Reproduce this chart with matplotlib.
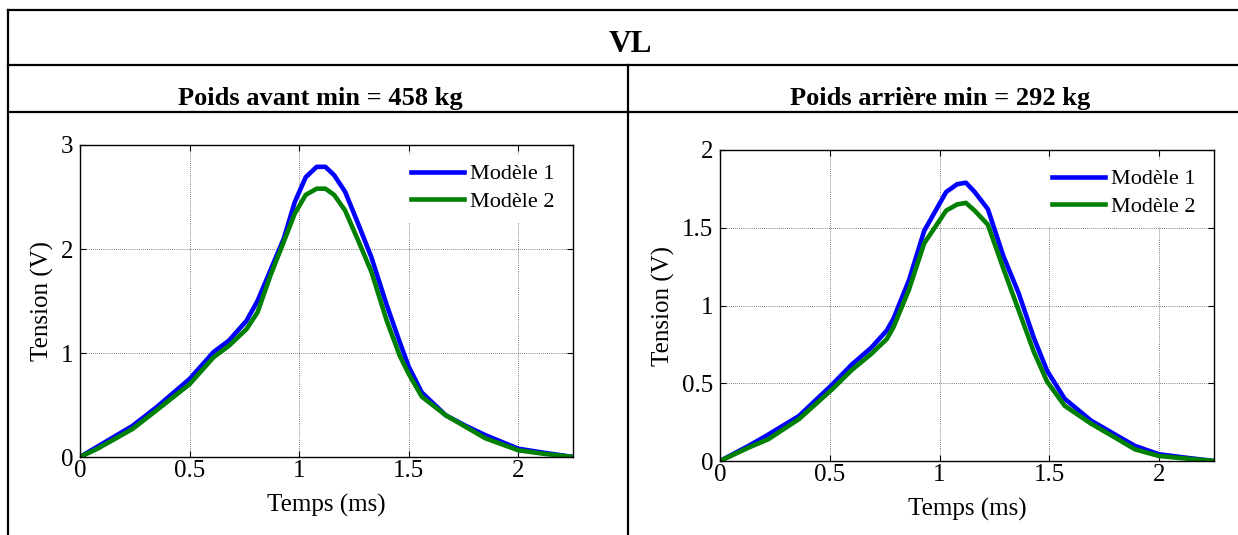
import matplotlib
matplotlib.use("Agg")
import matplotlib.pyplot as plt
from matplotlib.lines import Line2D

# ---------------- data ----------------
t_left = [0, 0.08, 0.24, 0.35, 0.5, 0.61, 0.68, 0.76, 0.81, 0.87, 0.93, 0.98, 1.03,
          1.08, 1.12, 1.16, 1.21, 1.27, 1.33, 1.40, 1.46, 1.5, 1.56, 1.67, 1.76,
          1.85, 2.0, 2.12, 2.25]
left_m1 = [0, 0.1, 0.3, 0.48, 0.75, 1.01, 1.12, 1.31, 1.5, 1.8, 2.1, 2.45, 2.69,
           2.79, 2.79, 2.71, 2.55, 2.24, 1.92, 1.46, 1.1, 0.87, 0.62, 0.4, 0.3,
           0.21, 0.08, 0.04, 0]
left_m2 = [0, 0.08, 0.27, 0.45, 0.7, 0.96, 1.07, 1.23, 1.39, 1.75, 2.07, 2.34, 2.52,
           2.58, 2.58, 2.52, 2.37, 2.08, 1.78, 1.31, 0.97, 0.8, 0.58, 0.4, 0.29,
           0.18, 0.065, 0.03, 0]

t_right = [0, 0.13, 0.22, 0.36, 0.51, 0.6, 0.69, 0.76, 0.79, 0.86, 0.93, 1.03, 1.08,
           1.12, 1.16, 1.22, 1.29, 1.36, 1.43, 1.49, 1.57, 1.69, 1.8, 1.89, 2.0,
           2.13, 2.25]
right_m1 = [0, 0.097, 0.17, 0.29, 0.49, 0.62, 0.73, 0.84, 0.915, 1.16, 1.48, 1.73,
            1.78, 1.79, 1.73, 1.62, 1.32, 1.08, 0.79, 0.58, 0.4, 0.26, 0.17, 0.097,
            0.043, 0.02, 0]
right_m2 = [0, 0.086, 0.14, 0.27, 0.46, 0.585, 0.69, 0.785, 0.86, 1.1, 1.4, 1.61,
            1.65, 1.66, 1.61, 1.52, 1.24, 0.97, 0.70, 0.51, 0.355, 0.24, 0.15, 0.075,
            0.032, 0.015, 0]

series_labels = ["Modèle 1", "Modèle 2"]
series_colors = ["#0000ff", "#008000"]
title_text = "VL"
header_left = "Poids avant min = 458 kg"
header_right = "Poids arrière min = 292 kg"
xlabel = "Temps (ms)"
ylabel = "Tension (V)"
xticks = [0, 0.5, 1, 1.5, 2]
xtick_labels = ["0", "0.5", "1", "1.5", "2"]
yticks_left = [0, 1, 2, 3]
ytick_labels_left = ["0", "1", "2", "3"]
yticks_right = [0, 0.5, 1, 1.5, 2]
ytick_labels_right = ["0", "0.5", "1", "1.5", "2"]

# ---------------- figure ----------------
W, H = 1238, 535
plt.rcParams['font.family'] = ['Liberation Serif', 'DejaVu Serif']
fig = plt.figure(figsize=(W / 100, H / 100), dpi=100)
fig.patch.set_facecolor("white")


def fx(px):
    return px / W


def fy(py):
    return 1 - py / H


# table lines
lw_tab = 1.6
for (x0, y0, x1, y1) in [
    (8, 10, 1238, 10),
    (8, 65, 1238, 65),
    (8, 112, 1238, 112),
    (8, 10, 8, 535),
    (628, 65, 628, 535),
]:
    fig.add_artist(Line2D([fx(x0), fx(x1)], [fy(y0), fy(y1)], color="black",
                          lw=lw_tab, transform=fig.transFigure,
                          solid_capstyle="projecting"))

fig.text(fx(630), fy(45), title_text, ha="center", va="center",
         fontsize=22.5, fontweight="bold")
fig.text(fx(320), fy(98), header_left, ha="center", va="center",
         fontsize=19, fontweight="bold")
fig.text(fx(940), fy(98), header_right, ha="center", va="center",
         fontsize=19, fontweight="bold")


def make_ax(rect, t, m1, m2, yticks, yticklabels, ymax):
    ax = fig.add_axes(rect)
    ax.plot(t, m1, color=series_colors[0], lw=3.3, label=series_labels[0],
            solid_joinstyle="round")
    ax.plot(t, m2, color=series_colors[1], lw=3.3, label=series_labels[1],
            solid_joinstyle="round")
    ax.set_xlim(0, 2.25)
    ax.set_ylim(0, ymax)
    ax.set_xticks(xticks)
    ax.set_xticklabels(xtick_labels)
    ax.set_yticks(yticks)
    ax.set_yticklabels(yticklabels)
    ax.grid(True, color="#555555", linestyle=(0, (1, 1.5)), linewidth=0.6)
    ax.tick_params(direction="in", top=True, right=True, labelsize=18,
                   length=4, width=0.8)
    ax.tick_params(axis="x", pad=2)
    ax.tick_params(axis="y", pad=5)
    for s in ax.spines.values():
        s.set_linewidth(1.0)
    ax.set_xlabel(xlabel, fontsize=18, labelpad=9)
    ax.set_ylabel(ylabel, fontsize=18, labelpad=5)
    leg = ax.legend(loc="upper right", fontsize=16, frameon=True, fancybox=False,
                    handlelength=2.4, handletextpad=0.25, borderpad=0.4,
                    labelspacing=0.3, borderaxespad=0.45)
    fr = leg.get_frame()
    fr.set_facecolor("white")
    fr.set_edgecolor("white")
    fr.set_alpha(1)
    for h in leg.get_lines():
        h.set_linewidth(3.3)
    return ax


make_ax([fx(80), fy(457), fx(573) - fx(80), fy(145) - fy(457)],
        t_left, left_m1, left_m2, yticks_left, ytick_labels_left, 3)
make_ax([fx(720), fy(461), fx(1214) - fx(720), fy(150) - fy(461)],
        t_right, right_m1, right_m2, yticks_right, ytick_labels_right, 2)

fig.savefig("out.png", dpi=100, facecolor="white")
